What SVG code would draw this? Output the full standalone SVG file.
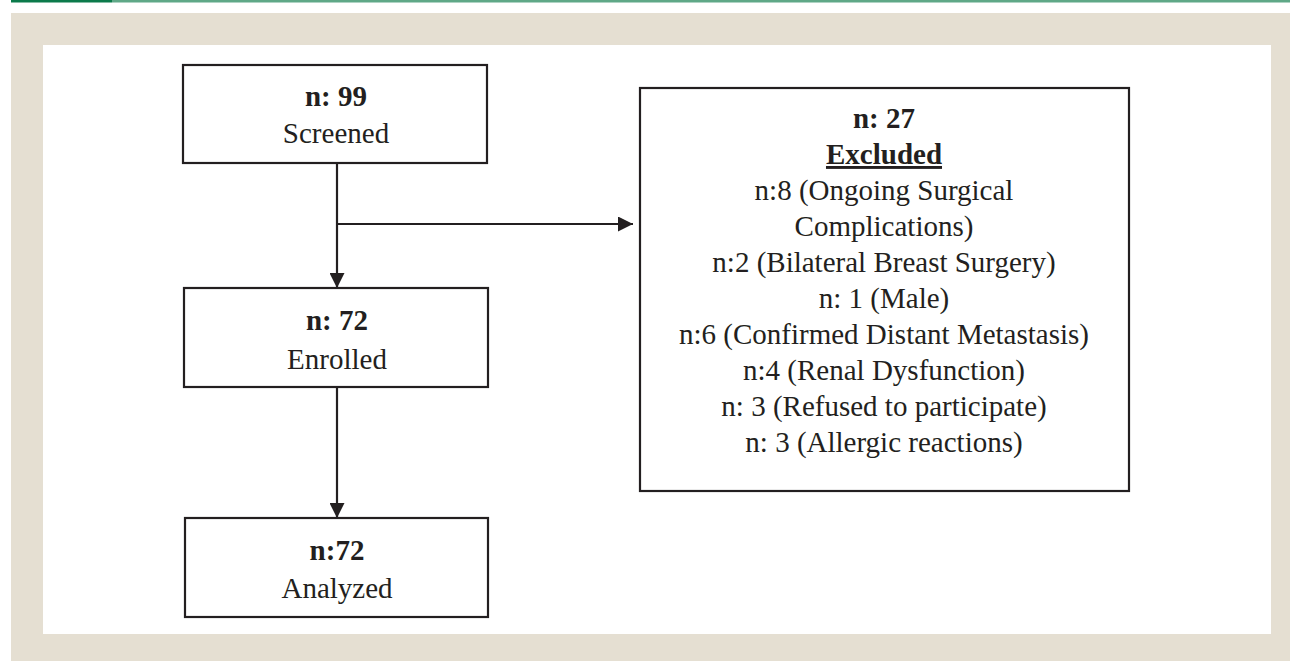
<svg xmlns="http://www.w3.org/2000/svg" width="1290" height="661" viewBox="0 0 1290 661">
<defs>
<style>
.box{fill:#fff;stroke:#231f20;stroke-width:2.2}
.t{font-family:"Liberation Serif","Times New Roman",serif;font-size:29px;fill:#231f20;text-anchor:middle}
.b{font-weight:bold}
.ln{fill:none;stroke:#231f20;stroke-width:2.2}
</style>
<marker id="ah" markerWidth="15" markerHeight="15" viewBox="0 0 15 15" refX="15" refY="7.5" orient="auto" markerUnits="userSpaceOnUse">
<path d="M0,0 L15,7.5 L0,15 Z" fill="#231f20"/>
</marker>
</defs>
<rect x="0" y="0" width="1290" height="661" fill="#fff"/>
<rect x="11" y="0" width="101" height="2.5" fill="#0b7a4b"/>
<rect x="112" y="0" width="1178" height="2.5" fill="#5fa887"/>
<rect x="11" y="13" width="1279" height="648" fill="#e5dfd2"/>
<rect x="43" y="45" width="1228" height="589" fill="#fff"/>
<g id="connectors">
<line class="ln" x1="337" y1="163" x2="337" y2="288" marker-end="url(#ah)"/>
<line class="ln" x1="337" y1="224" x2="633" y2="224" marker-end="url(#ah)"/>
<line class="ln" x1="337" y1="387" x2="337" y2="518" marker-end="url(#ah)"/>
</g>
<g id="screened">
<rect class="box" x="183" y="65" width="304" height="98"/>
<text class="t b" x="336" y="106">n: 99</text>
<text class="t" x="336" y="143">Screened</text>
</g>
<g id="enrolled">
<rect class="box" x="184" y="288" width="304" height="99"/>
<text class="t b" x="337" y="330">n: 72</text>
<text class="t" x="337" y="369">Enrolled</text>
</g>
<g id="analyzed">
<rect class="box" x="185" y="518" width="303" height="99"/>
<text class="t b" x="337" y="560">n:72</text>
<text class="t" x="337" y="598">Analyzed</text>
</g>
<g id="excluded">
<rect class="box" x="640" y="88" width="489" height="403"/>
<text class="t b" x="884" y="128">n: 27</text>
<text class="t b" x="884" y="164" text-decoration="underline">Excluded</text>
<text class="t" x="884" y="200">n:8 (Ongoing Surgical</text>
<text class="t" x="884" y="236">Complications)</text>
<text class="t" x="884" y="272">n:2 (Bilateral Breast Surgery)</text>
<text class="t" x="884" y="308">n: 1 (Male)</text>
<text class="t" x="884" y="344">n:6 (Confirmed Distant Metastasis)</text>
<text class="t" x="884" y="380">n:4 (Renal Dysfunction)</text>
<text class="t" x="884" y="416">n: 3 (Refused to participate)</text>
<text class="t" x="884" y="452">n: 3 (Allergic reactions)</text>
</g>
</svg>
